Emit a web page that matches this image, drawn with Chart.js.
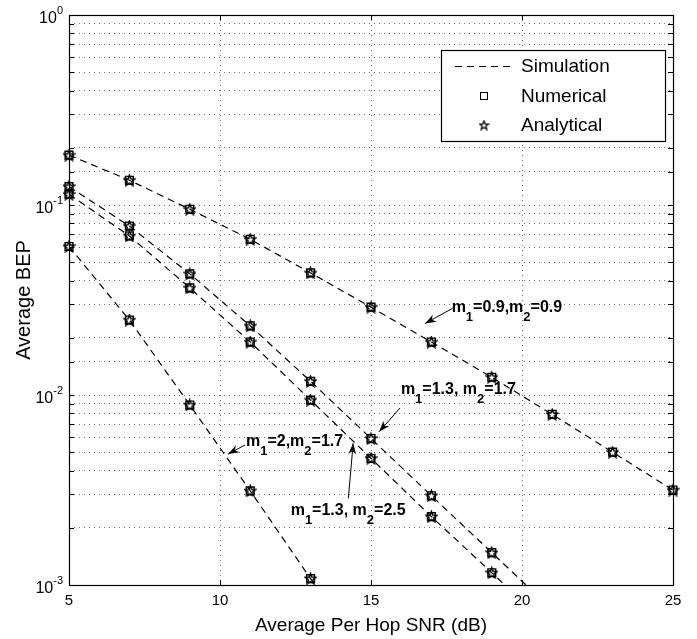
<!DOCTYPE html>
<html>
<head>
<meta charset="utf-8">
<script src="https://cdn.jsdelivr.net/npm/chart.js@4.4.0/dist/chart.umd.min.js"></script>
<style>
  html, body { margin: 0; padding: 0; background: #fff; }
  canvas { display: block; }
</style>
</head>
<body>
<canvas id="myChart" width="697" height="639"></canvas>
<script>
// SNR axis (dB)
const snr = [5, 7, 9, 11, 13, 15, 17, 19, 21, 23, 25];

// BEP, one array per fading pair
// (last point of the steep curves sits below 1e-3, the line runs off the axis)
const bep0909 = [0.183, 0.135, 0.095, 0.066, 0.0439, 0.029, 0.019, 0.0124, 0.0079, 0.005, 0.00316];
const bep1317 = [0.125, 0.0775, 0.0434, 0.0231, 0.0118, 0.0059, 0.00295, 0.00148, 0.00074];
const bep1325 = [0.114, 0.0687, 0.0366, 0.019, 0.0094, 0.00464, 0.00229, 0.00116, 0.00058];
const bep2017 = [0.0605, 0.0248, 0.00886, 0.00313, 0.00108, 0.00036];

// y tick labels (decades)
const yDecades = [0.001, 0.01, 0.1, 1];
const yExponents = ['-3', '-2', '-1', '0'];

const legendNames = ['Simulation', 'Numerical', 'Analytical'];

// curve labels, in data units: text position, arrow tail, arrow tip
const notes = [
  { text: 'm_1=0.9,m_2=0.9', at: [17.67, 0.0274], from: [17.70, 0.0286], to: [16.79, 0.0238] },
  { text: 'm_1=1.3, m_2=1.7', at: [15.99, 0.0101], from: [15.96, 0.00854], to: [15.27, 0.00641] },
  { text: 'm_1=2,m_2=1.7', at: [10.86, 0.00539], from: [10.83, 0.00546], to: [10.27, 0.00489] },
  { text: 'm_1=1.3, m_2=2.5', at: [12.34, 0.00234], from: [14.25, 0.00286], to: [14.41, 0.00557] }
];

const FONT = '"Liberation Sans", Arial, Helvetica, sans-serif';

// pentagram marker like matlab 'p'
function makeStar(size, lw) {
  const c = document.createElement('canvas');
  c.width = size; c.height = size;
  const g = c.getContext('2d');
  const cx = size / 2, cy = size / 2 + 0.5, R = size / 2 - 0.9, r = R * 0.42;
  g.beginPath();
  for (let i = 0; i < 10; i++) {
    const a = -Math.PI / 2 + i * Math.PI / 5;
    const rr = i % 2 ? r : R;
    g.lineTo(cx + rr * Math.cos(a), cy + rr * Math.sin(a));
  }
  g.closePath();
  g.strokeStyle = '#000';
  g.lineWidth = lw;
  g.stroke();
  return c;
}
const star = makeStar(13, 1.5);

function lineData(arr) {
  return arr.map((v, i) => ({ x: snr[i], y: v }));
}
function markerData(arr) {
  return lineData(arr).filter(p => p.y >= 0.001);
}

const curves = [bep0909, bep1317, bep1325, bep2017];
const datasets = [];
curves.forEach(c => {
  datasets.push({
    label: 'Simulation', data: lineData(c), showLine: true,
    borderColor: '#000', borderWidth: 1.2, borderDash: [7, 5], pointRadius: 0, fill: false
  });
});
curves.forEach(c => {
  datasets.push({
    label: 'Numerical', data: markerData(c), showLine: false, clip: false,
    pointStyle: 'rect', pointRadius: 5.5, borderColor: '#000', borderWidth: 1.4,
    backgroundColor: 'rgba(0,0,0,0)'
  });
});
curves.forEach(c => {
  datasets.push({
    label: 'Analytical', data: markerData(c), showLine: false, clip: false,
    pointStyle: star, pointRadius: 6, borderColor: '#000'
  });
});

function drawRich(ctx, text, x, y) {
  // "_" makes the next char a subscript
  let cx = x;
  for (let i = 0; i < text.length; i++) {
    if (text[i] === '_') {
      i++;
      ctx.font = 'bold 13px ' + FONT;
      ctx.fillText(text[i], cx, y + 9);
      cx += ctx.measureText(text[i]).width;
    } else {
      ctx.font = 'bold 16px ' + FONT;
      ctx.fillText(text[i], cx, y);
      cx += ctx.measureText(text[i]).width;
    }
  }
}

function drawArrow(ctx, x1, y1, x2, y2) {
  ctx.beginPath();
  ctx.moveTo(x1, y1);
  ctx.lineTo(x2, y2);
  ctx.stroke();
  const ang = Math.atan2(y2 - y1, x2 - x1);
  const len = 11, half = 4;
  ctx.beginPath();
  ctx.moveTo(x2, y2);
  ctx.lineTo(x2 - len * Math.cos(ang) + half * Math.sin(ang), y2 - len * Math.sin(ang) - half * Math.cos(ang));
  ctx.lineTo(x2 - len * 0.7 * Math.cos(ang), y2 - len * 0.7 * Math.sin(ang));
  ctx.lineTo(x2 - len * Math.cos(ang) - half * Math.sin(ang), y2 - len * Math.sin(ang) + half * Math.cos(ang));
  ctx.closePath();
  ctx.fill();
}

const decor = {
  id: 'decor',
  afterDraw(chart) {
    const { ctx, chartArea: a, scales: { x, y } } = chart;
    ctx.save();
    ctx.strokeStyle = '#000';
    ctx.fillStyle = '#000';
    ctx.lineWidth = 1.2;

    // box around the axes
    ctx.strokeRect(a.left + 0.5, a.top + 0.5, a.right - a.left, a.bottom - a.top);

    // inward ticks, all four sides
    ctx.lineWidth = 1;
    ctx.beginPath();
    y.ticks.forEach(t => {
      const py = Math.round(y.getPixelForValue(t.value)) + 0.5;
      ctx.moveTo(a.left, py); ctx.lineTo(a.left + 5, py);
      ctx.moveTo(a.right - 5, py); ctx.lineTo(a.right, py);
    });
    x.ticks.forEach(t => {
      const px = Math.round(x.getPixelForValue(t.value)) + 0.5;
      ctx.moveTo(px, a.bottom); ctx.lineTo(px, a.bottom - 5);
      ctx.moveTo(px, a.top); ctx.lineTo(px, a.top + 5);
    });
    ctx.stroke();

    // y tick labels 10^n
    ctx.textBaseline = 'alphabetic';
    ctx.textAlign = 'left';
    yDecades.forEach((v, i) => {
      const py = y.getPixelForValue(v);
      ctx.font = '11px ' + FONT;
      const we = ctx.measureText(yExponents[i]).width;
      ctx.font = '16px ' + FONT;
      const wb = ctx.measureText('10').width;
      const right = a.left - 6;
      ctx.fillText('10', right - we - wb, py + 8);
      ctx.font = '11px ' + FONT;
      ctx.fillText(yExponents[i], right - we, py - 1.5);
    });

    // curve labels with arrows
    notes.forEach(n => {
      drawRich(ctx, n.text, x.getPixelForValue(n.at[0]), y.getPixelForValue(n.at[1]));
      drawArrow(ctx,
        x.getPixelForValue(n.from[0]), y.getPixelForValue(n.from[1]),
        x.getPixelForValue(n.to[0]), y.getPixelForValue(n.to[1]));
    });

    // legend box, top right inside the axes
    const lx = a.right - 232, ly = a.top + 35, lw = 224, lh = 91;
    ctx.fillStyle = '#fff';
    ctx.fillRect(lx, ly, lw, lh);
    ctx.lineWidth = 1.2;
    ctx.strokeRect(lx + 0.5, ly + 0.5, lw, lh);
    ctx.fillStyle = '#000';
    ctx.font = '19px ' + FONT;
    ctx.textBaseline = 'middle';
    const rowY = [ly + 16, ly + 46, ly + 75];
    const mx = lx + 43;
    ctx.setLineDash([7, 5]);
    ctx.beginPath();
    ctx.moveTo(lx + 14, rowY[0] + 0.5); ctx.lineTo(lx + 70, rowY[0] + 0.5);
    ctx.stroke();
    ctx.setLineDash([]);
    ctx.lineWidth = 1;
    ctx.strokeRect(mx - 3.5, rowY[1] - 3.5, 7, 7);
    ctx.drawImage(makeStar(11, 1.3), mx - 5.5, rowY[2] - 5.5);
    legendNames.forEach((name, i) => ctx.fillText(name, lx + 80, rowY[i] + 1));

    ctx.restore();
  }
};

const ctx = document.getElementById('myChart');

new Chart(ctx, {
  type: 'line',
  data: { datasets: datasets },
  options: {
    responsive: false,
    animation: false,
    events: [],
    devicePixelRatio: 1,
    layout: { padding: { top: 15, right: 24, bottom: 0, left: 0 } },
    plugins: { legend: { display: false }, tooltip: { enabled: false } },
    scales: {
      x: {
        type: 'linear',
        min: 5,
        max: 25,
        ticks: { stepSize: 5, color: '#000', font: { family: FONT, size: 15 }, padding: 7, maxRotation: 0 },
        grid: { color: 'rgba(0,0,0,0.55)', drawTicks: false },
        border: { display: false, dash: [1, 4] },
        title: { display: true, text: 'Average Per Hop SNR (dB)', color: '#000',
                 font: { family: FONT, size: 19 }, padding: { top: 0, bottom: 2 } },
        afterFit: s => { s.height = 54; }
      },
      y: {
        type: 'logarithmic',
        min: 0.001,
        max: 1,
        ticks: { display: false, autoSkip: false },
        grid: { color: 'rgba(0,0,0,0.55)', drawTicks: false },
        border: { display: false, dash: [1, 4] },
        title: { display: true, text: 'Average BEP', color: '#000',
                 font: { family: FONT, size: 20 }, padding: { top: 12, bottom: 0 } },
        afterFit: s => { s.width = 69; }
      }
    }
  },
  plugins: [decor]
});
</script>
</body>
</html>
